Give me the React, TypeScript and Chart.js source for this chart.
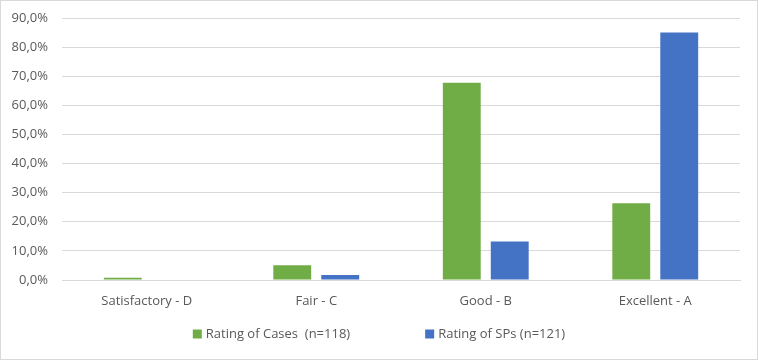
import React, { useEffect, useRef } from "react";
import { Chart, registerables } from "chart.js";

Chart.register(...registerables);

const categories = ["Satisfactory - D", "Fair - C", "Good - B", "Excellent - A"];
const casesLabel = "Rating of Cases  (n=118)";
const spsLabel = "Rating of SPs (n=121)";
const casesValues = [0.8, 5.1, 67.8, 26.4];
const spsValues = [0, 1.7, 13.2, 85.0];
const yTicks = [0, 10, 20, 30, 40, 50, 60, 70, 80, 90];

const GREEN = "#70AD47";
const BLUE = "#4472C4";
const TEXT = "#595959";
const GRID = "#d9d9d9";
const FONT = "'Open Sans', sans-serif";

const borderPlugin = {
  id: "outerBorder",
  beforeDraw(chart: any) {
    const { ctx, width, height } = chart;
    ctx.save();
    ctx.fillStyle = "#ffffff";
    ctx.fillRect(0, 0, width, height);
    ctx.strokeStyle = GRID;
    ctx.lineWidth = 1;
    ctx.strokeRect(0.5, 0.5, width - 1, height - 1);
    ctx.restore();
  },
};

const legendPlugin = {
  id: "customLegend",
  afterDraw(chart: any) {
    const { ctx, width } = chart;
    const ds = chart.data.datasets;
    ctx.save();
    ctx.font = `13px ${FONT}`;
    ctx.textBaseline = "middle";
    ctx.textAlign = "left";
    const box = 9;
    const boxGap = 4;
    const itemGap = 75;
    const widths = ds.map((d: any) => box + boxGap + ctx.measureText(d.label).width);
    const total = widths.reduce((a: number, b: number) => a + b, 0) + itemGap * (ds.length - 1);
    let x = (width - total) / 2;
    const y = 334;
    ds.forEach((d: any, i: number) => {
      ctx.fillStyle = d.backgroundColor;
      ctx.fillRect(x, y - box / 2, box, box);
      ctx.fillStyle = TEXT;
      ctx.fillText(d.label, x + box + boxGap, y);
      x += widths[i] + itemGap;
    });
    ctx.restore();
  },
};

export default function App() {
  const ref = useRef<HTMLCanvasElement>(null);
  useEffect(() => {
    document.body.style.margin = "0";
    const chart = new Chart(ref.current!, {
      type: "bar",
      data: {
        labels: categories,
        datasets: [
          { label: casesLabel, data: casesValues, backgroundColor: GREEN, categoryPercentage: 0.566, barPercentage: 0.79 },
          { label: spsLabel, data: spsValues, backgroundColor: BLUE, categoryPercentage: 0.566, barPercentage: 0.79 },
        ],
      },
      options: {
        animation: false,
        responsive: false,
        maintainAspectRatio: false,
        layout: { padding: { top: 18, right: 18, left: 0, bottom: 0 } },
        plugins: { legend: { display: false }, tooltip: { enabled: false } },
        scales: {
          x: {
            grid: { display: false, drawTicks: false },
            border: { display: true, color: GRID },
            ticks: { color: TEXT, font: { family: FONT, size: 13 }, padding: 13, maxRotation: 0 },
            afterFit(scale: any) { scale.height = 80; scale.paddingLeft = 0; scale.paddingRight = 0; },
          },
          y: {
            min: 0,
            max: 90,
            afterBuildTicks(scale: any) { scale.ticks = yTicks.map((v) => ({ value: v })); },
            grid: { color: GRID, drawTicks: false },
            border: { display: false },
            ticks: {
              color: TEXT,
              font: { family: FONT, size: 13 },
              padding: 14,
              callback: (v: any) => Number(v).toFixed(1).replace(".", ",") + "%",
            },
            afterFit(scale: any) { scale.width = 62; scale.paddingTop = 0; scale.paddingBottom = 0; },
          },
        },
      },
      plugins: [borderPlugin, legendPlugin],
    });
    return () => chart.destroy();
  }, []);
  return (
    <div style={{ width: 758, height: 360 }}>
      <canvas ref={ref} width={758} height={360} style={{ display: "block", width: 758, height: 360 }} />
    </div>
  );
}
